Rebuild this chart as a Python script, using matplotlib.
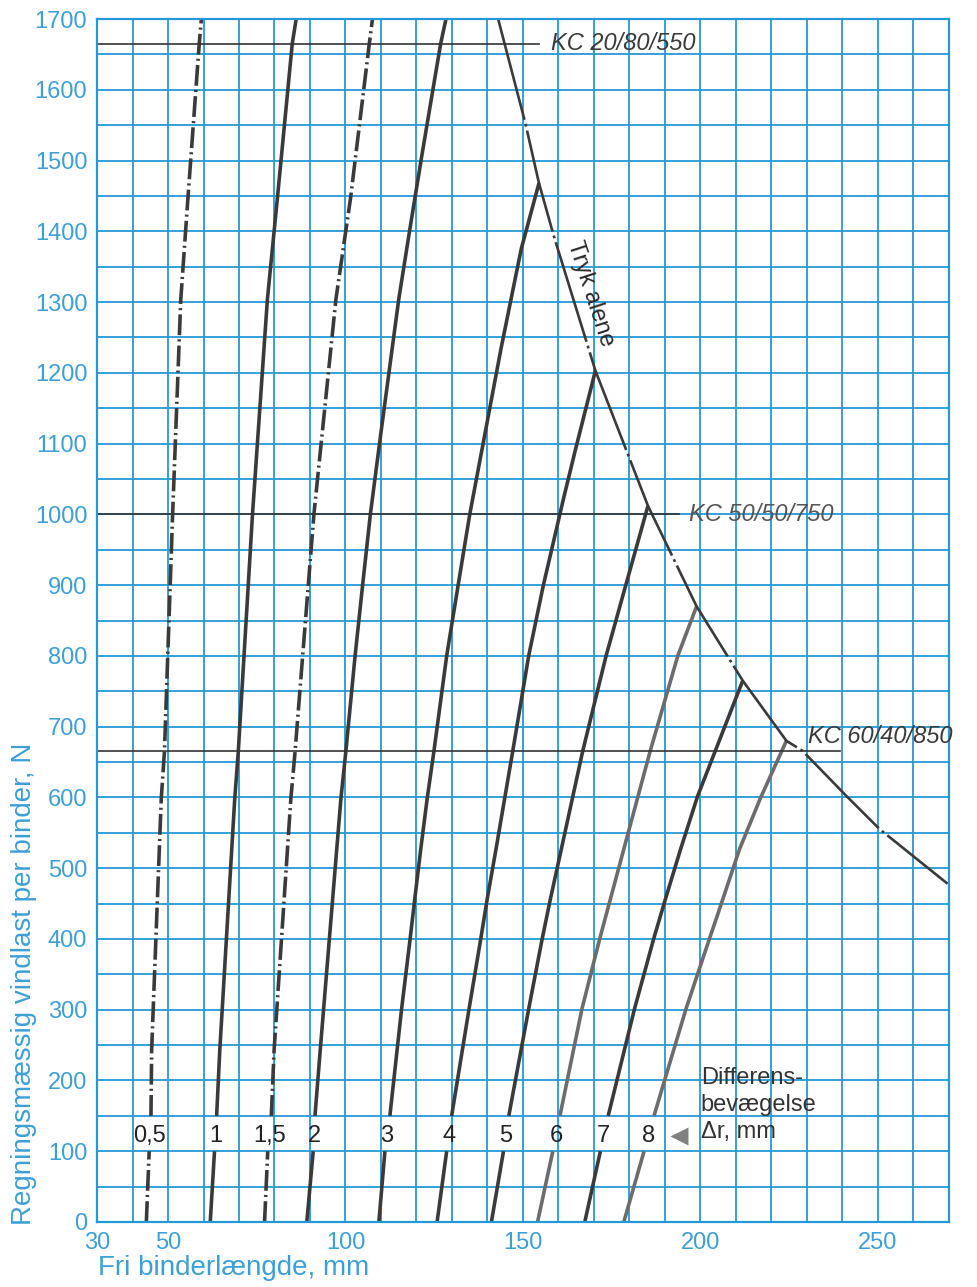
import matplotlib.pyplot as plt
import numpy as np

plt.rcParams['font.family'] = ['Liberation Sans', 'DejaVu Sans']
plt.rcParams['lines.scale_dashes'] = False

# Differensbevægelse curves: load (N) against free tie length (mm)
load_05 = [0, 100, 150, 244, 598, 665, 1000, 1304, 1446, 1665, 1700]
len_05 = [43.9, 44.7, 45.2, 45.4, 48.1, 49.0, 51.3, 53.6, 55.6, 58.8, 59.4]

load_1 = [0, 100, 150, 244, 598, 665, 1000, 1304, 1446, 1665, 1700]
len_1 = [61.9, 63.1, 63.7, 64.6, 68.8, 69.8, 73.8, 78.0, 80.8, 85.0, 86.1]

load_15 = [0, 100, 150, 244, 598, 665, 1000, 1304, 1446, 1665, 1700]
len_15 = [77.2, 78.1, 79.1, 79.9, 84.6, 85.8, 91.1, 97.3, 101.4, 106.7, 107.6]

load_2 = [0, 100, 150, 244, 598, 665, 800, 899, 1000, 1116, 1304, 1399, 1510, 1665, 1700]
len_2 = [89.1, 90.9, 91.4, 92.9, 98.7, 100.1, 102.7, 104.8, 107.0, 110.0, 115.0, 118.0, 121.6, 126.8, 128.3]

load_3 = [0, 100, 150, 301, 400, 456, 527, 598, 665, 800, 899, 1000, 1234, 1375, 1468]
len_3 = [109.4, 111.1, 112.5, 115.8, 118.2, 119.5, 121.2, 123.0, 124.9, 128.5, 131.7, 135.0, 143.8, 149.5, 154.5]

load_4 = [0, 100, 150, 301, 400, 456, 527, 665, 800, 899, 1022, 1092, 1203]
len_4 = [125.8, 128.5, 129.9, 134.8, 138.1, 139.9, 142.4, 147.1, 151.6, 155.7, 161.4, 164.8, 170.4]

load_5 = [0, 100, 150, 301, 400, 456, 527, 665, 800, 899, 1012]
len_5 = [141.1, 144.5, 146.0, 151.6, 155.4, 157.7, 160.8, 166.8, 173.4, 178.9, 185.2]

load_6 = [0, 100, 150, 301, 400, 456, 527, 665, 800, 870]
len_6 = [154.1, 158.4, 160.4, 166.6, 171.6, 174.6, 178.4, 185.8, 193.6, 198.9]

load_7 = [0, 100, 150, 301, 400, 456, 527, 602, 765]
len_7 = [167.4, 171.8, 174.0, 181.4, 186.8, 190.1, 194.4, 199.2, 211.9]

load_8 = [0, 100, 150, 301, 400, 428, 527, 598, 680]
len_8 = [178.4, 184.1, 186.9, 195.9, 202.5, 204.4, 211.0, 216.8, 224.2]

curve_names = ['0,5', '1', '1,5', '2', '3', '4', '5', '6', '7', '8']
curve_loads = [load_05, load_1, load_15, load_2, load_3, load_4, load_5, load_6, load_7, load_8]
curve_lengths = [len_05, len_1, len_15, len_2, len_3, len_4, len_5, len_6, len_7, len_8]

# "Tryk alene" limit (compression only)
tryk_length = [143.0, 150.7, 154.5, 158.7, 170.4, 185.2, 198.9, 211.9, 224.2, 228.7, 241.1, 250.5, 269.6]
tryk_load = [1700, 1552, 1468, 1393, 1203, 1012, 870, 765, 680, 666, 602, 555, 478]

# KC mortar lines
kc_names = ['KC 20/80/550', 'KC 50/50/750', 'KC 60/40/850']
kc_load = [1665, 1000, 666]
kc_end = [154.4, 194.0, 239.2]

grid_blue = '#2399d5'
text_blue = '#3c9fd6'
ink = '#3a3a3a'

fig = plt.figure(figsize=(9.77, 12.87), dpi=100)
ax = fig.add_axes([97 / 977, 65 / 1287, 852 / 977, 1203 / 1287])

ax.set_xlim(30, 270)
ax.set_ylim(0, 1700)
ax.set_xticks([30, 50, 100, 150, 200, 250])
ax.set_xticks(np.arange(30, 271, 10), minor=True)
ax.set_yticks(np.arange(0, 1701, 100))
ax.set_yticks(np.arange(0, 1701, 50), minor=True)
ax.grid(which='both', color=grid_blue, lw=1.3)
ax.set_axisbelow(True)
ax.tick_params(which='both', length=0, labelsize=17, labelcolor=text_blue, pad=7)
for sp in ax.spines.values():
    sp.set_color(grid_blue)
    sp.set_linewidth(1.6)

# curves, broken between 100 and 150 N where the labels sit
for i, name in enumerate(curve_names):
    load = np.array(curve_loads[i])
    length = np.array(curve_lengths[i])
    if name in ('0,5', '1,5'):
        style = dict(dashes=(15, 3, 1.5, 3))
    else:
        style = dict(linestyle='-')
    color = '#6c6c6c' if name in ('6', '8') else ink
    for part in (load <= 100, load >= 150):
        ax.plot(length[part], load[part], color=color, lw=2.6,
                solid_capstyle='butt', **style)
    ax.text(np.interp(122, load, length), 122, name, ha='center', va='center',
            fontsize=17, color='#222222')

ax.plot(tryk_length, tryk_load, color=ink, lw=1.9, dashes=(75, 3, 2, 3))
ax.text(169, 1312, 'Tryk alene', rotation=-72, ha='center', va='center',
        fontsize=17, color='#2a2a2a', rotation_mode='anchor')

for name, y, end in zip(kc_names, kc_load, kc_end):
    ax.plot([30, end], [y, y], color='#333333', lw=1.2)
ax.text(158.0, 1665, kc_names[0], style='italic', ha='left', va='center',
        fontsize=17, color='#3a3a3a')
ax.text(196.8, 1000, kc_names[1], style='italic', ha='left', va='center',
        fontsize=17, color='#555555')
ax.text(230.4, 686, kc_names[2], style='italic', ha='left', va='center',
        fontsize=17, color='#3a3a3a', clip_on=False)

ax.plot(194.0, 121.5, marker='<', ms=13, color='#808080', mec='none')
ax.text(200.1, 219, 'Differens-\nbevægelse\nΔr, mm', ha='left', va='top',
        fontsize=17, color='#333333', linespacing=1.3)

fig.text(98 / 977, 1 - 1268 / 1287, 'Fri binderlængde, mm', ha='left', va='center',
         fontsize=20, color=text_blue)
fig.text(24 / 977, 1 - 1225 / 1287, 'Regningsmæssig vindlast per binder, N',
         rotation=90, ha='center', va='bottom', fontsize=20, color=text_blue)

fig.savefig('out.png', dpi=100)
